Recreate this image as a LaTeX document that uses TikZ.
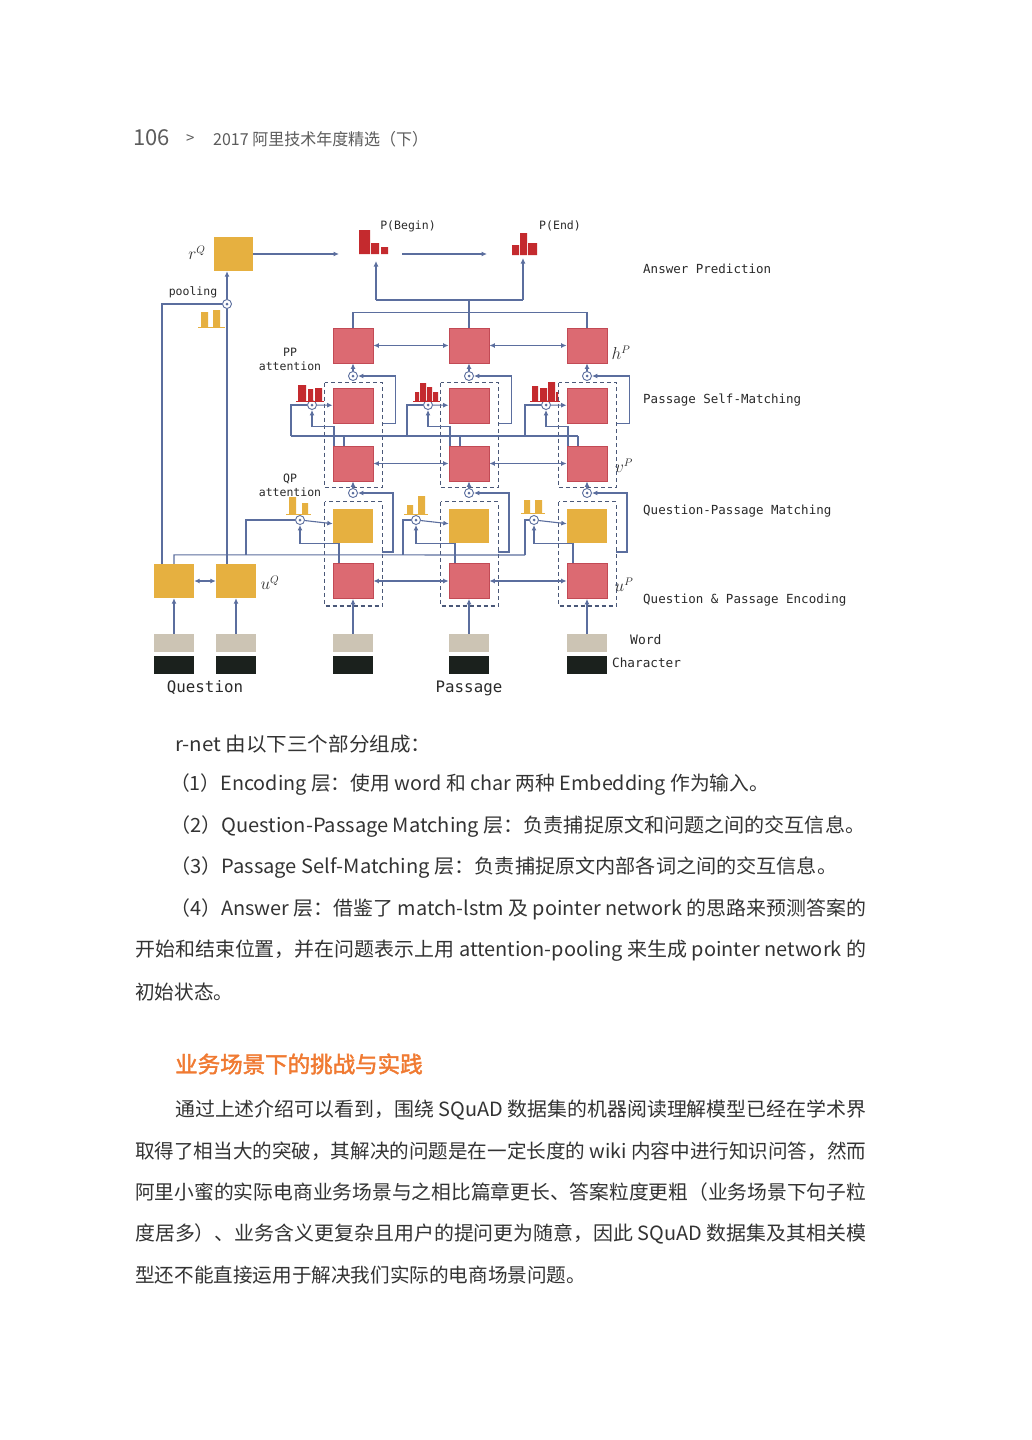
\documentclass[tikz,border=0pt]{standalone}
\usepackage{fontspec}
\usepackage{graphicx}
\usetikzlibrary{arrows.meta}
\newfontfamily\cjk{Noto Sans CJK SC}[AutoFakeBold=2]
\newfontfamily\mono{DejaVu Sans Mono}
\definecolor{linec}{HTML}{5B6E9E}
\definecolor{gold}{HTML}{E6B040}
\definecolor{rose}{HTML}{DC6A72}
\definecolor{roseb}{HTML}{C24A55}
\definecolor{barred}{HTML}{C42A2E}
\definecolor{wordc}{HTML}{CCC4B4}
\definecolor{charc}{HTML}{1B211D}
\definecolor{dashc}{HTML}{4A5878}
\definecolor{txt}{HTML}{333333}
\definecolor{orng}{HTML}{F07A32}

\begin{document}
\begin{tikzpicture}[x=1pt,y=-1pt,
    arr/.style={draw=linec,line width=1.1pt,-{Latex[length=5.5pt,width=5pt]}},
    darr/.style={draw=linec,line width=1.1pt,{Latex[length=5.5pt,width=5pt]}-{Latex[length=5.5pt,width=5pt]}},
    wire/.style={draw=linec,line width=1.1pt},
    pbox/.style={draw=roseb,fill=rose,line width=0.8pt,minimum width=40pt,minimum height=35pt,inner sep=0pt},
    ybox/.style={fill=gold,minimum width=40pt,minimum height=34pt,inner sep=0pt},
    wbox/.style={fill=wordc,minimum width=40pt,minimum height=18pt,inner sep=0pt},
    cbox/.style={fill=charc,minimum width=40pt,minimum height=18pt,inner sep=0pt},
    gate/.style={circle,draw=linec,fill=white,line width=0.9pt,minimum size=9pt,inner sep=0pt,
      path picture={\fill[linec] (path picture bounding box.center) circle (1.5pt);}},
    dbox/.style={draw=dashc,line width=1.2pt,dash pattern=on 4pt off 3pt},
    lbl/.style={text=txt!80!black,inner sep=0pt,font=\mono\fontsize{11.5}{14}\selectfont},
    row/.style={text=txt!80!black,inner sep=0pt,anchor=west,font=\mono\fontsize{12.5}{15}\selectfont},
    mth/.style={text=txt,inner sep=0pt,font=\fontsize{16}{18}\selectfont},
    body/.style={anchor=west,inner sep=0pt,text=txt,font=\cjk\fontsize{19.6}{24}\selectfont}]

\useasboundingbox (0,0) rectangle (1031,1440);
\fill[white] (0,0) rectangle (1031,1440);

% page header
\node[anchor=west,inner sep=0pt,text=txt!80,font=\cjk\fontsize{22}{26}\selectfont] (pgno) at (133,138) {106};
\node[anchor=west,inner sep=0pt,text=txt!80,font=\cjk\fontsize{15}{18}\selectfont] (sep) at (186,139) {>};
\node[anchor=west,inner sep=0pt,text=txt!80,font=\cjk\fontsize{16.5}{20}\selectfont] (book) at (213,139)
  {\resizebox{215pt}{\height}{2017 阿里技术年度精选（下）}};

% ---------- figure: r-net ----------
\foreach \i/\x in {1/353,2/469,3/587} {
  \node[pbox] (h\i) at (\x,345.5) {};
  \node[pbox] (s\i) at (\x,405.5) {};
  \node[pbox] (v\i) at (\x,463.5) {};
  \node[ybox] (q\i) at (\x,526) {};
  \node[pbox] (e\i) at (\x,581) {};
  \node[wbox] (w\i) at (\x,643) {};
  \node[cbox] (c\i) at (\x,664.5) {};
  \node[gate] (ga\i) at (\x,376) {};
  \node[gate] (gs\i) at (\x-41,405) {};
  \node[gate] (gv\i) at (\x,493) {};
  \node[gate] (gq\i) at (\x-53,520) {};
}
\node[ybox] (qa) at (174,581) {};
\node[ybox] (qb) at (236,581) {};
\node[wbox] (wa) at (174,643) {};
\node[wbox] (wb) at (236,643) {};
\node[cbox] (ca) at (174,664.5) {};
\node[cbox] (cb) at (236,664.5) {};
\node[ybox,minimum width=39pt] (rq) at (233.5,254) {};
\node[gate] (pool) at (227,304) {};

\coordinate (pbL) at (339,254);
\coordinate (pbR) at (402,254);
\coordinate (peL) at (487,254);
\coordinate (ansL) at (376,300);
\coordinate (ansR) at (523,300);
\coordinate (begTip) at (376,261);
\coordinate (endTip) at (523,258);

% dashed groups
\foreach \i in {1,2,3} {
  \draw[dbox] ([shift={(-8,-5)}]s\i.north west) rectangle ([shift={(9,6)}]v\i.south east);
  \draw[dbox] ([shift={(-8,-7)}]q\i.north west) rectangle ([shift={(9,7)}]e\i.south east);
}

% inputs
\foreach \i in {1,2,3} \draw[arr] (w\i) -- (e\i);
\draw[arr] (wa) -- (qa);
\draw[arr] (wb) -- (qb);

% bidirectional rnns
\draw[darr] (qa) -- (qb);
\foreach \a/\b in {1/2,2/3} {
  \draw[darr] (e\a) -- (e\b);
  \draw[darr] (v\a) -- (v\b);
  \draw[darr] (h\a) -- (h\b);
}

% question side: u^Q bus and pooling
\draw[wire] (qa.north) -- ++(0,-9) -- (525,555);
\draw[wire] ([xshift=-12pt]qa.north) |- (pool.west);
\draw[wire] ([xshift=-9pt]qb.north) -- (pool);
\draw[arr] (pool) -- (pool |- rq.south);

% question-passage matching
\draw[wire] (gq1.west) -| (246,555);
\draw[wire] (gq2.west) -| (403,555);
\draw[wire] (gq3.west) -| (525,555);
\foreach \i/\x in {1/353,2/469,3/587} {
  \draw[arr] (gq\i) -- (q\i);
  \draw[arr] ([xshift=-14pt]e\i.north) -- ++(0,-20) -| (gq\i);
  \draw[arr] (\x+29,552) -- (\x+40,552) |- (gv\i);
  \draw[arr] (gv\i) -- (v\i);
}

% passage self-matching
\draw[wire] (291,436) -- (578,436);
\foreach \i/\x in {1/353,2/469,3/587} {
  \draw[arr] (gs\i) -- (s\i);
  \draw[wire] (gs\i.west) -| (\x-62,436);
  \draw[arr] ([xshift=-19pt]v\i.north) -- ++(0,-19) -| (gs\i);
  \draw[wire] ([xshift=-9pt]v\i.north) -- ++(0,-10);
  \draw[arr] ([xshift=10pt]s\i.south east) -- ++(12,0) |- (ga\i);
  \draw[arr] (ga\i) -- (h\i);
}

% answer prediction
\draw[wire] (h1.north) -- ++(0,-15) -| (h3.north);
\draw[wire] (h2.north) -- (469,300);
\draw[wire] (ansL) -- (ansR);
\draw[arr] (ansL) -- (begTip);
\draw[arr] (ansR) -- (endTip);
\draw[arr] (rq) -- (pbL);
\draw[arr] (pbR) -- (peL);

% attention bars
\fill[barred] (359,230) rectangle (370,254) (371,243) rectangle (379,254) (381,247) rectangle (388,254);
\fill[barred] (512,245) rectangle (519,255) (520,233) rectangle (527,255) (528,243) rectangle (537,255);
\fill[barred] (298,385) rectangle (306,401) (308,389) rectangle (313,401) (315,388) rectangle (322,401);
\fill[barred] (415,392) rectangle (419,401) (420,383) rectangle (426,401) (427,387) rectangle (432,401) (433,392) rectangle (438,401);
\fill[barred] (532,386) rectangle (538,401) (540,388) rectangle (547,401) (548,382) rectangle (555,401) (556,392) rectangle (558,401);
\fill[gold] (201,312) rectangle (208,327) (213,310) rectangle (220,327);
\fill[gold] (289,497) rectangle (296,514) (302,503) rectangle (308,514);
\fill[gold] (407,505) rectangle (413,514) (418,496) rectangle (425,514);
\fill[gold] (524,500) rectangle (530,513) (535,500) rectangle (542,513);
\draw[gold,line width=0.7pt] (198,327) -- (225,327) (286,514) -- (311,514) (404,514) -- (428,514) (521,513) -- (545,513);
\draw[barred,line width=0.7pt] (296,401) -- (324,401) (413,401) -- (440,401) (530,401) -- (560,401);

% labels
\node[mth] (lrq) at (197,253) {$r^Q$};
\node[mth] (luq) at (270,583) {$u^Q$};
\node[mth] (lhp) at (621,353) {$h^P$};
\node[mth] (lvp) at (624,466) {$v^P$};
\node[mth] (lup) at (624,585) {$u^P$};
\node[lbl] (lpool) at (193,292) {pooling};
\node[lbl,align=center] (lpp) at (290,359) {PP\\attention};
\node[lbl,align=center] (lqp) at (290,485) {QP\\attention};
\node[lbl] (lbeg) at (408,226) {P(Begin)};
\node[lbl] (lend) at (560,226) {P(End)};
\node[row] (r1) at (643,269) {Answer Prediction};
\node[row] (r2) at (643,400) {Passage Self-Matching};
\node[row] (r3) at (643,511) {Question-Passage Matching};
\node[row] (r4) at (643,600) {Question \& Passage Encoding};
\node[row,font=\mono\fontsize{13}{15}\selectfont] (lw) at (630,640) {Word};
\node[row,font=\mono\fontsize{12.7}{15}\selectfont] (lc) at (612,663) {Character};
\node[lbl,font=\mono\fontsize{15.8}{18}\selectfont] (lq) at (205,688) {Question};
\node[lbl,font=\mono\fontsize{15.8}{18}\selectfont] (lpa) at (469,688) {Passage};

% ---------- body text ----------
\node[body] (t1) at (175,744) {\resizebox{256pt}{\height}{r-net 由以下三个部分组成：}};
\node[body] (t2) at (170,785) {\resizebox{599pt}{\height}{（1）Encoding 层：使用 word 和 char 两种 Embedding 作为输入。}};
\node[body] (t3) at (170,827) {\resizebox{695pt}{\height}{（2）Question-Passage Matching 层：负责捕捉原文和问题之间的交互信息。}};
\node[body] (t4) at (170,868) {\resizebox{667pt}{\height}{（3）Passage Self-Matching 层：负责捕捉原文内部各词之间的交互信息。}};
\node[body] (t5) at (170,909) {\resizebox{696pt}{\height}{（4）Answer 层：借鉴了 match-lstm 及 pointer network 的思路来预测答案的}};
\node[body] (t6) at (135,951) {\resizebox{731pt}{\height}{开始和结束位置，并在问题表示上用 attention-pooling 来生成 pointer network 的}};
\node[body] (t7) at (135,992) {初始状态。};

\node[body,text=orng,font=\cjk\bfseries\fontsize{22.5}{26}\selectfont] (head) at (175,1064) {业务场景下的挑战与实践};

\node[body] (t8) at (175,1110) {\resizebox{691pt}{\height}{通过上述介绍可以看到，围绕 SQuAD 数据集的机器阅读理解模型已经在学术界}};
\node[body] (t9) at (135,1151) {\resizebox{731pt}{\height}{取得了相当大的突破，其解决的问题是在一定长度的 wiki 内容中进行知识问答，然而}};
\node[body] (t10) at (135,1192) {\resizebox{731pt}{\height}{阿里小蜜的实际电商业务场景与之相比篇章更长、答案粒度更粗（业务场景下句子粒}};
\node[body] (t11) at (135,1234) {\resizebox{731pt}{\height}{度居多）、业务含义更复杂且用户的提问更为随意，因此 SQuAD 数据集及其相关模}};
\node[body] (t12) at (135,1275) {型还不能直接运用于解决我们实际的电商场景问题。};
\end{tikzpicture}
\end{document}
